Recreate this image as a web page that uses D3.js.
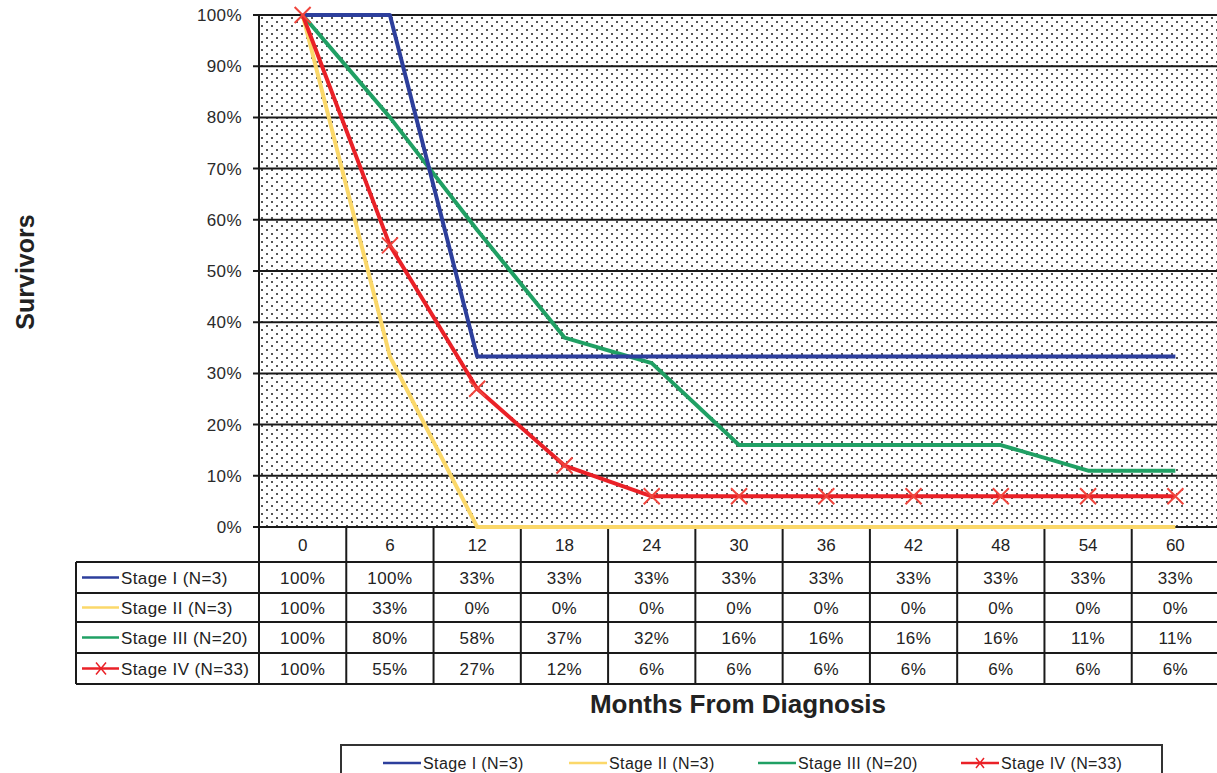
<!DOCTYPE html>
<html>
<head>
<meta charset="utf-8">
<script src="https://cdn.jsdelivr.net/npm/d3@7"></script>
<style>
  body { margin: 0; background: #fff; }
  svg text { font-family: "Liberation Sans", Arial, sans-serif; fill: #222; }
</style>
</head>
<body>
<div id="chart"></div>
<script>
// months on the x axis
var months = ["0", "6", "12", "18", "24", "30", "36", "42", "48", "54", "60"];
var yTicks = [0, 10, 20, 30, 40, 50, 60, 70, 80, 90, 100];

// survival % per stage (plotted values)
var stage1 = [100, 100, 33.3, 33.3, 33.3, 33.3, 33.3, 33.3, 33.3, 33.3, 33.3];
var stage2 = [100, 33.3, 0, 0, 0, 0, 0, 0, 0, 0, 0];
var stage3 = [100, 80, 58, 37, 32, 16, 16, 16, 16, 11, 11];
var stage4 = [100, 55, 27, 12, 6, 6, 6, 6, 6, 6, 6];

// labels shown in the data table
var table1 = ["100%", "100%", "33%", "33%", "33%", "33%", "33%", "33%", "33%", "33%", "33%"];
var table2 = ["100%", "33%", "0%", "0%", "0%", "0%", "0%", "0%", "0%", "0%", "0%"];
var table3 = ["100%", "80%", "58%", "37%", "32%", "16%", "16%", "16%", "16%", "11%", "11%"];
var table4 = ["100%", "55%", "27%", "12%", "6%", "6%", "6%", "6%", "6%", "6%", "6%"];

var names = ["Stage I (N=3)", "Stage II (N=3)", "Stage III (N=20)", "Stage IV (N=33)"];
var colors = ["#2d3f9c", "#fbd86a", "#20a064", "#ea2127"];

var series = [stage1, stage2, stage3, stage4];
var tables = [table1, table2, table3, table4];

var W = 1217, H = 773;
var pL = 259, pR = 1219, pT = 15, pB = 527;

var svg = d3.select("#chart").append("svg")
    .attr("width", W)
    .attr("height", H);

var x = d3.scaleBand().domain(months).range([pL, pR]).padding(0);
var y = d3.scaleLinear().domain([0, 100]).range([pB, pT]);

// dotted background
var defs = svg.append("defs");
var pat = defs.append("pattern")
    .attr("id", "dots")
    .attr("patternUnits", "userSpaceOnUse")
    .attr("x", pL).attr("y", pT)
    .attr("width", 10).attr("height", 8);
pat.append("rect").attr("width", 10).attr("height", 8).attr("fill", "#fff");
pat.append("rect").attr("x", 2).attr("y", 2).attr("width", 2).attr("height", 2).attr("fill", "#555");
pat.append("rect").attr("x", 7).attr("y", 6).attr("width", 2).attr("height", 2).attr("fill", "#555");

svg.append("rect")
    .attr("x", pL).attr("y", pT)
    .attr("width", pR - pL).attr("height", pB - pT)
    .attr("fill", "url(#dots)");

// horizontal gridlines
svg.append("g").selectAll("line")
    .data(yTicks)
    .enter().append("line")
    .attr("x1", pL - 6).attr("x2", pR)
    .attr("y1", function(d) { return y(d); })
    .attr("y2", function(d) { return y(d); })
    .attr("stroke", "#1a1a1a")
    .attr("stroke-width", 2);

// y axis line
svg.append("line")
    .attr("x1", pL).attr("x2", pL)
    .attr("y1", pT).attr("y2", pB)
    .attr("stroke", "#1a1a1a").attr("stroke-width", 2);

// y tick labels
svg.append("g").selectAll("text")
    .data(yTicks)
    .enter().append("text")
    .attr("x", pL - 17)
    .attr("y", function(d) { return y(d) + 6; })
    .attr("text-anchor", "end")
    .attr("font-size", 17)
    .attr("letter-spacing", 0.4)
    .style("fill", "#2a2a2a")
    .text(function(d) { return d + "%"; });

// y title
svg.append("text")
    .attr("transform", "translate(34,272) rotate(-90)")
    .attr("text-anchor", "middle")
    .attr("font-size", 25)
    .attr("font-weight", "bold")
    .text("Survivors");

// data table (drawn before the lines so the 0% line stays visible)
var labelLeft = 76;
var rowY = [527, 562, 593, 622, 653, 684];
var tg = svg.append("g");

rowY.forEach(function(ry, i) {
    tg.append("line")
        .attr("x1", i === 0 ? pL : labelLeft)
        .attr("x2", pR)
        .attr("y1", ry).attr("y2", ry)
        .attr("stroke", "#1a1a1a").attr("stroke-width", 2);
});
months.forEach(function(m) {
    tg.append("line")
        .attr("x1", x(m)).attr("x2", x(m))
        .attr("y1", rowY[0]).attr("y2", rowY[5])
        .attr("stroke", "#1a1a1a").attr("stroke-width", 2);
});
tg.append("line")
    .attr("x1", labelLeft).attr("x2", labelLeft)
    .attr("y1", rowY[1]).attr("y2", rowY[5])
    .attr("stroke", "#1a1a1a").attr("stroke-width", 2);

// header
tg.selectAll(".hdr")
    .data(months)
    .enter().append("text")
    .attr("x", function(d) { return x(d) + x.bandwidth() / 2; })
    .attr("y", (rowY[0] + rowY[1]) / 2 + 6)
    .attr("text-anchor", "middle")
    .attr("font-size", 17)
    .text(function(d) { return d; });

tables.forEach(function(vals, k) {
    var mid = (rowY[k + 1] + rowY[k + 2]) / 2;
    tg.append("line")
        .attr("x1", 82).attr("x2", 119)
        .attr("y1", mid).attr("y2", mid)
        .attr("stroke", colors[k]).attr("stroke-width", 2.5);
    if (k === 3) {
        tg.append("path")
            .attr("d", "M96," + (mid - 6) + "L106," + (mid + 6) + "M96," + (mid + 6) + "L106," + (mid - 6))
            .attr("stroke", colors[k]).attr("stroke-width", 1.5);
    }
    tg.append("text")
        .attr("x", 121).attr("y", mid + 6)
        .attr("font-size", 17)
        .attr("letter-spacing", 0.4)
        .text(names[k]);
    tg.selectAll(".r" + k)
        .data(vals)
        .enter().append("text")
        .attr("x", function(d, i) { return x(months[i]) + x.bandwidth() / 2; })
        .attr("y", mid + 6)
        .attr("text-anchor", "middle")
        .attr("font-size", 17)
        .attr("letter-spacing", 0.4)
        .text(function(d) { return d; });
});

// lines
var cx = function(d, i) { return x(months[i]) + x.bandwidth() / 2; };
var line = d3.line()
    .x(cx)
    .y(function(d) { return y(d); });

var order = [1, 2, 0, 3];
order.forEach(function(k) {
    svg.append("path")
        .datum(series[k])
        .attr("d", line)
        .attr("fill", "none")
        .attr("stroke", colors[k])
        .attr("stroke-width", 4)
        .attr("stroke-linejoin", "round");
});

// x markers for stage IV
svg.append("g").selectAll("path")
    .data(stage4)
    .enter().append("path")
    .attr("d", function(d, i) {
        var px = cx(d, i), py = y(d), s = 8;
        return "M" + (px - s) + "," + (py - s) + "L" + (px + s) + "," + (py + s) +
               "M" + (px - s) + "," + (py + s) + "L" + (px + s) + "," + (py - s);
    })
    .attr("stroke", "#f0453d")
    .attr("stroke-width", 2)
    .attr("fill", "none");

// x title
svg.append("text")
    .attr("x", 738).attr("y", 713)
    .attr("text-anchor", "middle")
    .attr("font-size", 26)
    .attr("font-weight", "bold")
    .text("Months From Diagnosis");

// legend
var lg = svg.append("g");
lg.append("rect")
    .attr("x", 341).attr("y", 745)
    .attr("width", 821).attr("height", 40)
    .attr("fill", "#fff")
    .attr("stroke", "#333").attr("stroke-width", 2);
var legX = [383, 569, 758, 961];
names.forEach(function(n, k) {
    lg.append("line")
        .attr("x1", legX[k]).attr("x2", legX[k] + 38)
        .attr("y1", 763).attr("y2", 763)
        .attr("stroke", colors[k]).attr("stroke-width", 2.5);
    if (k === 3) {
        lg.append("path")
            .attr("d", "M" + (legX[k] + 15) + ",758L" + (legX[k] + 23) + ",768M" + (legX[k] + 15) + ",768L" + (legX[k] + 23) + ",758")
            .attr("stroke", colors[k]).attr("stroke-width", 1.5);
    }
    lg.append("text")
        .attr("x", legX[k] + 40).attr("y", 769)
        .attr("font-size", 16)
        .attr("letter-spacing", 0.4)
        .text(n);
});
</script>
</body>
</html>
